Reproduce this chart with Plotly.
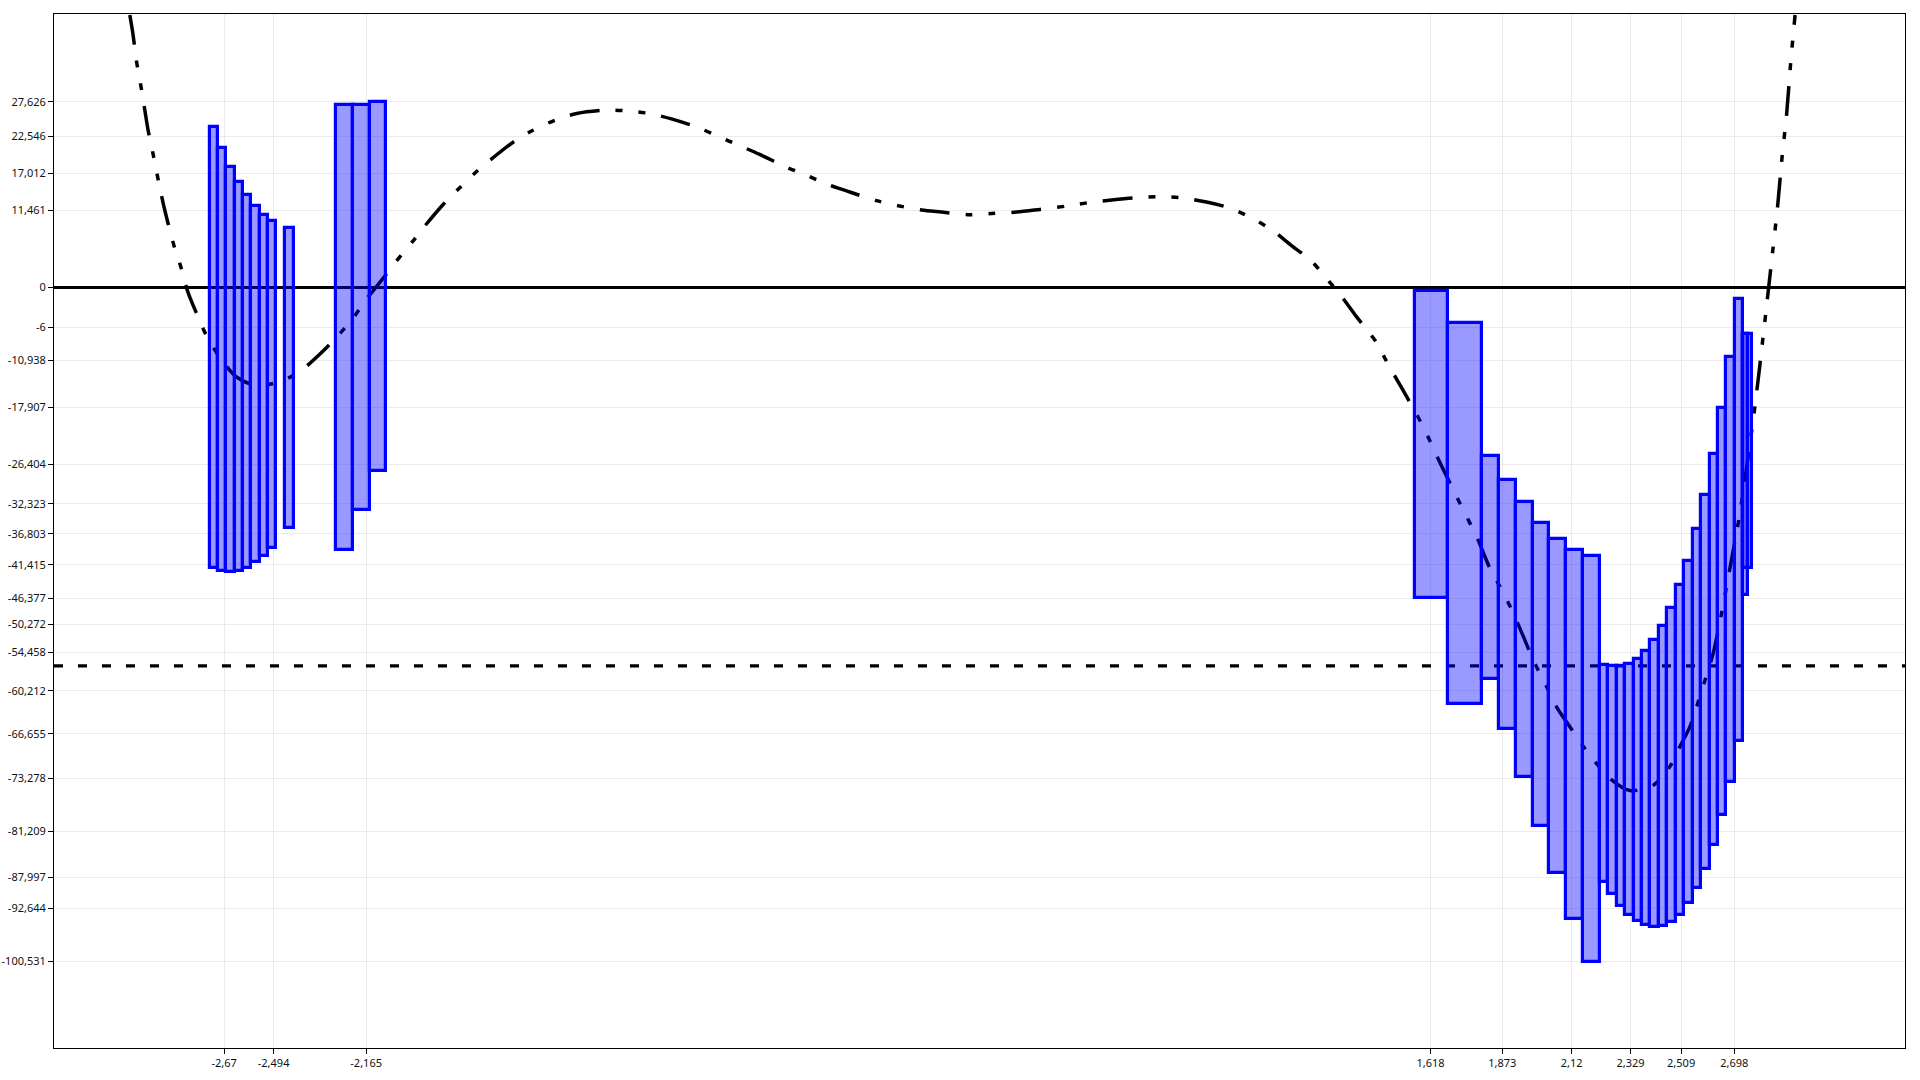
import plotly.graph_objects as go

# ---------------- data ----------------
curve_x = [-3.005, -2.994, -2.982, -2.964, -2.952, -2.940, -2.922, -2.905, -2.887, -2.869,
           -2.846, -2.822, -2.798, -2.768, -2.733, -2.685, -2.626, -2.555, -2.472, -2.401,
           -2.330, -2.271, -2.211, -2.164, -2.105, -2.057, -1.998, -1.957, -1.892, -1.838,
           -1.779, -1.720, -1.637, -1.572, -1.494, -1.417, -1.317, -1.240, -1.157, -1.080,
           -0.985, -0.914, -0.837, -0.766, -0.671, -0.600, -0.523, -0.446, -0.351, -0.280,
           -0.191, -0.120, -0.019, 0.058, 0.147, 0.230, 0.325, 0.401, 0.485, 0.561,
           0.662, 0.739, 0.822, 0.905, 0.988, 1.059, 1.124, 1.190, 1.255, 1.302,
           1.355, 1.427, 1.456, 1.492, 1.533, 1.592, 1.652, 1.687, 1.734, 1.782,
           1.829, 1.877, 1.912, 1.948, 1.983, 2.031, 2.066, 2.114, 2.161, 2.197,
           2.256, 2.327, 2.410, 2.469, 2.505, 2.540, 2.564, 2.594, 2.623, 2.653,
           2.682, 2.718, 2.765, 2.785, 2.806, 2.834, 2.852, 2.868, 2.884, 2.899, 2.914]
curve_y = [40.6, 37.8, 33.9, 29.6, 26.5, 23.4, 19.8, 16.2, 12.6, 9.5,
           5.9, 2.8, -0.8, -3.9, -7.2, -10.5, -13.4, -14.7, -14.1, -12.6,
           -10.0, -7.5, -4.6, -1.8, 1.3, 3.9, 6.9, 9.1, 12.3, 14.6,
           17.0, 19.1, 21.8, 23.4, 24.9, 25.9, 26.4, 26.3, 25.9, 25.1,
           23.8, 22.5, 21.1, 19.8, 17.9, 16.7, 15.3, 14.2, 12.9, 12.2,
           11.5, 11.2, 10.8, 11.0, 11.2, 11.6, 12.1, 12.6, 13.0, 13.3,
           13.5, 13.3, 12.7, 11.8, 10.2, 8.4, 6.2, 4.1, 1.0, -1.4,
           -4.4, -8.3, -10.6, -13.3, -16.3, -20.8, -26.2, -29.2, -33.2, -37.2,
           -41.9, -45.6, -48.6, -52.1, -55.6, -59.6, -62.6, -65.6, -68.5, -70.5,
           -73.3, -75.1, -74.3, -71.5, -68.5, -65.6, -62.6, -58.6, -54.6, -48.6,
           -42.0, -33.7, -19.8, -13.0, -5.3, 5.2, 12.1, 19.5, 25.8, 33.8, 40.6]

# floating bars: left edge, right edge, low value, high value
bar_x0 = [-2.7209, -2.6913, -2.6617, -2.6321, -2.6025, -2.5729, -2.5433, -2.5137,
          -2.4520, -2.2706, -2.2114, -2.1522,
          1.5617, 1.6811, 1.8013, 1.8611, 1.9209, 1.9807, 2.0405, 2.1003, 2.1601,
          2.2199, 2.2499, 2.2799, 2.3099, 2.3399, 2.3699, 2.3999, 2.4299, 2.4599,
          2.4899, 2.5199, 2.5499, 2.5799, 2.6099, 2.6399, 2.6699, 2.6999,
          2.7299, 2.7299]
bar_x1 = [-2.6913, -2.6617, -2.6321, -2.6025, -2.5729, -2.5433, -2.5137, -2.4841,
          -2.4224, -2.2114, -2.1522, -2.0930,
          1.6811, 1.8013, 1.8611, 1.9209, 1.9807, 2.0405, 2.1003, 2.1601, 2.2199,
          2.2499, 2.2799, 2.3099, 2.3399, 2.3699, 2.3999, 2.4299, 2.4599, 2.4899,
          2.5199, 2.5499, 2.5799, 2.6099, 2.6399, 2.6699, 2.6999, 2.7299,
          2.7608, 2.7452]
bar_low = [-41.94, -42.34, -42.54, -42.34, -41.94, -41.04, -40.10, -38.85,
           -35.87, -39.21, -33.24, -27.36,
           -46.30, -62.12, -58.38, -65.85, -73.06, -80.37, -87.39, -94.21, -100.67,
           -88.73, -90.60, -92.36, -93.61, -94.60, -95.19, -95.45, -95.30, -94.70,
           -93.61, -91.87, -89.63, -86.75, -83.16, -78.78, -73.81, -67.73,
           -41.87, -45.85]
bar_high = [23.96, 20.70, 17.91, 15.63, 13.69, 12.04, 10.79, 9.85,
            8.81, 27.16, 27.21, 27.57,
            -0.63, -5.30, -25.19, -28.83, -32.12, -35.19, -37.54, -39.28, -40.03,
            -56.30, -56.54, -56.54, -56.19, -55.45, -54.30, -52.66, -50.57, -47.84,
            -44.50, -40.78, -36.15, -30.93, -24.85, -18.09, -10.42, -1.82,
            -7.04, -7.04]

ref_level = -56.49
x_range = [-3.2745, 3.3047]
y_range = [-113.5, 40.75]

x_tick_vals = [-2.67, -2.494, -2.165, 1.618, 1.873, 2.12, 2.329, 2.509, 2.698]
x_tick_text = ["-2,67", "-2,494", "-2,165", "1,618", "1,873", "2,12", "2,329", "2,509", "2,698"]
y_tick_vals = [27.626, 22.546, 17.012, 11.461, 0, -6, -10.938, -17.907, -26.404, -32.323,
               -36.803, -41.415, -46.377, -50.272, -54.458, -60.212, -66.655, -73.278,
               -81.209, -87.997, -92.644, -100.531]
y_tick_text = ["27,626", "22,546", "17,012", "11,461", "0", "-6", "-10,938", "-17,907",
               "-26,404", "-32,323", "-36,803", "-41,415", "-46,377", "-50,272", "-54,458",
               "-60,212", "-66,655", "-73,278", "-81,209", "-87,997", "-92,644", "-100,531"]

# ---------------- figure ----------------
centers = [(a + b) / 2 for a, b in zip(bar_x0, bar_x1)]
widths = [b - a for a, b in zip(bar_x0, bar_x1)]
heights = [h - l for l, h in zip(bar_low, bar_high)]

fig = go.Figure()

fig.add_trace(go.Scatter(
    x=x_range, y=[ref_level, ref_level], mode="lines",
    line=dict(color="black", width=3.2, dash="9px,15px"),
    hoverinfo="skip", showlegend=False))

fig.add_trace(go.Scatter(
    x=curve_x, y=curve_y, mode="lines",
    line=dict(color="black", width=3.5, dash="30px,16px,7px,16px,7px,16px",
              shape="spline", smoothing=0.8),
    showlegend=False))

fig.add_trace(go.Bar(
    x=centers, y=heights, base=bar_low, width=widths, yaxis="y2",
    marker=dict(color="rgba(0,0,255,0.4)", line=dict(color="rgb(0,0,255)", width=3.2)),
    showlegend=False))

tick_font = dict(family="Noto Sans, Open Sans, sans-serif", size=11, color="#111")

fig.update_layout(
    width=1920, height=1080,
    margin=dict(l=54, r=15, t=14, b=32, autoexpand=False),
    paper_bgcolor="white", plot_bgcolor="white",
    showlegend=False,
    bargap=0,
    xaxis=dict(range=x_range, tickmode="array", tickvals=x_tick_vals, ticktext=x_tick_text,
               automargin=False,
               showgrid=True, gridcolor="#ebebeb", gridwidth=1, zeroline=False,
               showline=True, linecolor="black", linewidth=1, mirror=True,
               ticks="outside", ticklen=5, tickcolor="black", tickfont=tick_font),
    yaxis=dict(range=y_range, tickmode="array", tickvals=y_tick_vals, ticktext=y_tick_text,
               automargin=False,
               showgrid=True, gridcolor="#ebebeb", gridwidth=1,
               zeroline=True, zerolinecolor="black", zerolinewidth=3,
               showline=True, linecolor="black", linewidth=1, mirror=True,
               ticks="outside", ticklen=5, tickcolor="black", tickfont=tick_font),
    yaxis2=dict(range=y_range, overlaying="y", visible=False, showgrid=False, zeroline=False,
                automargin=False),
)

fig.write_html(
    "out.html",
    config={"displayModeBar": False},
    post_script="document.body.style.margin='0';document.body.style.overflow='hidden';",
)
